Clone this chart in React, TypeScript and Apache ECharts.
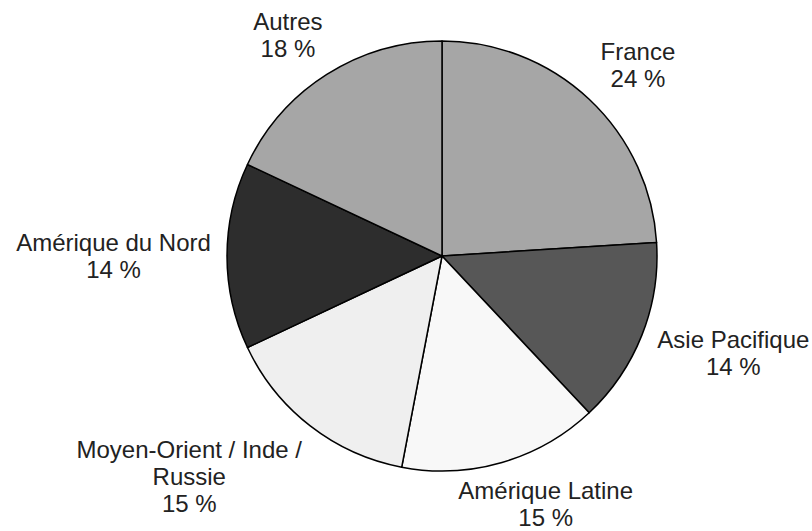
import React, { useEffect, useRef } from "react";
import * as echarts from "echarts";

const categories = [
  "France",
  "Asie Pacifique",
  "Amérique Latine",
  "Moyen-Orient / Inde /\nRussie",
  "Amérique du Nord",
  "Autres",
];
const values = [24, 14, 15, 15, 14, 18];
const colors = ["#a6a6a6", "#575757", "#f8f8f8", "#efefef", "#2d2d2d", "#a6a6a6"];

const CX = 442;
const CY = 256;
const R = 215;
const GAP = 15;
const KX = 1.6;
const KY = 1.2;
const FONT_SIZE = 24;
const FONT_FAMILY = "'Liberation Sans', Arial, Helvetica, sans-serif";

function measure(text: string): number {
  const c = document.createElement("canvas");
  const ctx = c.getContext("2d");
  if (!ctx) return 200;
  ctx.font = `${FONT_SIZE}px ${FONT_FAMILY}`;
  return Math.max(...text.split("\n").map((l) => ctx.measureText(l).width));
}

export default function App() {
  const ref = useRef<HTMLDivElement>(null);
  useEffect(() => {
    if (!ref.current) return;
    const chart = echarts.init(ref.current, undefined, { renderer: "svg" });
    const total = values.reduce((a, b) => a + b, 0);
    const cum: number[] = [];
    let acc = 0;
    values.forEach((v) => {
      cum.push(acc);
      acc += v;
    });
    const clamp = (v: number) => Math.max(0, Math.min(1, v));
    chart.setOption({
      animation: false,
      backgroundColor: "#ffffff",
      series: [
        {
          type: "pie",
          center: [CX, CY],
          radius: R,
          startAngle: 90,
          clockwise: true,
          data: categories.map((name, i) => ({
            name,
            value: values[i],
            itemStyle: { color: colors[i] },
            label: {
              width: Math.ceil(measure(`${name}\n${values[i]} %`)) + 2,
            },
          })),
          itemStyle: { borderColor: "#000000", borderWidth: 1.5 },
          emphasis: { disabled: true },
          label: {
            show: true,
            position: "outside",
            overflow: "none",
            align: "center",
            formatter: (p: any) => `${p.name}\n${p.value} %`,
            fontFamily: FONT_FAMILY,
            fontSize: FONT_SIZE,
            lineHeight: 27,
            color: "#222222",
          },
          labelLine: { show: false },
          labelLayout: (params: any) => {
            const i = params.dataIndex;
            const mid = (cum[i] + values[i] / 2) / total;
            const th = mid * Math.PI * 2;
            const dx = Math.sin(th);
            const dy = -Math.cos(th);
            const d = R + GAP;
            const ax = CX + dx * d;
            const ay = CY + dy * d;
            const w = params.labelRect.width;
            const h = params.labelRect.height;
            const fx = clamp((1 - KX * dx) / 2);
            const fy = clamp((1 - KY * dy) / 2);
            const left = ax - fx * w;
            const top = ay - fy * h;
            return {
              x: left + w / 2,
              y: top + h / 2,
              align: "center",
              verticalAlign: "middle",
            };
          },
        },
      ],
    });
    return () => chart.dispose();
  }, []);
  return (
    <div
      ref={ref}
      style={{ position: "fixed", left: 0, top: 0, width: 812, height: 531 }}
    />
  );
}
